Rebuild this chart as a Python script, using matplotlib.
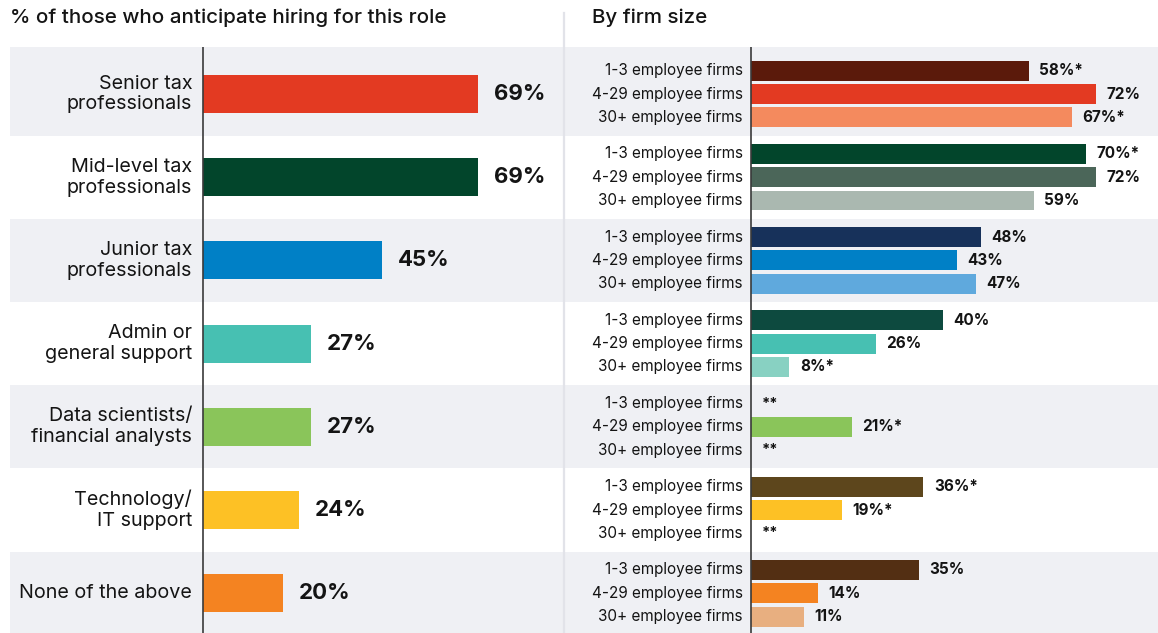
import matplotlib.pyplot as plt
from matplotlib.lines import Line2D

plt.rcParams['font.family'] = ['Inter', 'DejaVu Sans']

# roles and overall share planning to hire
roles = ["Senior tax\nprofessionals", "Mid-level tax\nprofessionals", "Junior tax\nprofessionals",
         "Admin or\ngeneral support", "Data scientists/\nfinancial analysts", "Technology/\nIT support",
         "None of the above"]
overall = [69, 69, 45, 27, 27, 24, 20]
role_colors = ["#E33A22", "#02452B", "#0080C6", "#47C0B2", "#8AC55A", "#FDC125", "#F48321"]

# breakdown by firm size (None = sample too small, shown as **)
firm_sizes = ["1-3 employee firms", "4-29 employee firms", "30+ employee firms"]
small_firms = [58, 70, 48, 40, None, 36, 35]
mid_firms = [72, 72, 43, 26, 21, 19, 14]
large_firms = [67, 59, 47, 8, None, None, 11]
small_flag = [True, True, False, False, False, True, False]
mid_flag = [False, False, False, False, True, True, False]
large_flag = [True, False, False, True, False, False, False]
small_colors = ["#5B1A0B", "#02452B", "#17315A", "#0D4A3F", "#8AC55A", "#5D461C", "#532F13"]
mid_colors = ["#E33A22", "#4B6659", "#0080C6", "#47C0B2", "#8AC55A", "#FDC125", "#F48321"]
large_colors = ["#F48A5E", "#AAB8B0", "#5FA9DD", "#88D1C2", "#8AC55A", "#FDC125", "#E8AF80"]

band_color = "#EFF0F4"
text_color = "#141414"
W, H = 1158, 633

fig = plt.figure(figsize=(W / 100, H / 100), dpi=100)

top_px = 47
ax_h = (H - top_px) / H
ylim = (6.478, -0.565)

ax1 = fig.add_axes([10 / W, 0, (565 - 10) / W, ax_h])
ax2 = fig.add_axes([565 / W, 0, (W - 565) / W, ax_h])

# left panel: 3.986 px per percent, zero at x=203
ax1.set_xlim(-(203 - 10) / 3.986, (565 - 203) / 3.986)
# right panel: 4.79 px per percent, zero at x=751
ax2.set_xlim(-(751 - 565) / 4.79, (W - 751) / 4.79)

for ax in (ax1, ax2):
    ax.set_ylim(*ylim)
    ax.axis("off")
    for i in range(0, 7, 2):
        lo = i - 0.5 if i > 0 else -0.6
        ax.axhspan(lo, i + 0.5, color=band_color, lw=0, zorder=0)
    ax.axvline(0, color="#3a3a3a", lw=1.2, zorder=3)

# overall bars
ypos = list(range(len(roles)))
ax1.barh(ypos, overall, height=0.457, color=role_colors, zorder=2)
for y, role, v in zip(ypos, roles, overall):
    ax1.text(-2.7, y, role, ha="right", va="center", fontsize=14.2,
             color=text_color, linespacing=1.2)
    ax1.text(v + 4, y, f"{v}%", ha="left", va="center", fontsize=16,
             fontweight="bold", color=text_color)

# firm size bars
offset = 0.28
groups = [(small_firms, small_flag, small_colors, -offset),
          (mid_firms, mid_flag, mid_colors, 0),
          (large_firms, large_flag, large_colors, offset)]
for (vals, flags, colors, dy), size in zip(groups, firm_sizes):
    for y, v, f, c in zip(ypos, vals, flags, colors):
        yy = y + dy
        ax2.text(-1.7, yy, size, ha="right", va="center", fontsize=11, color=text_color)
        if v is None:
            ax2.text(2.2, yy, "**", ha="left", va="center", fontsize=10.5,
                     fontweight="bold", color=text_color)
            continue
        ax2.barh(yy, v, height=0.24, color=c, zorder=2)
        label = f"{v}%*" if f else f"{v}%"
        ax2.text(v + 2.2, yy, label, ha="left", va="center", fontsize=11,
                 fontweight="bold", color=text_color)

# headers and panel divider
fig.text(10 / W, 1 - 18 / H, "% of those who anticipate hiring for this role",
         ha="left", va="center", fontsize=14.8, fontweight="medium", color=text_color)
fig.text(592 / W, 1 - 18 / H, "By firm size", ha="left", va="center",
         fontsize=14.8, fontweight="medium", color=text_color)
fig.add_artist(Line2D([564 / W, 564 / W], [0, 1 - 13 / H], color="#E2E3E9", lw=1.6))

fig.savefig("out.png", dpi=100)
